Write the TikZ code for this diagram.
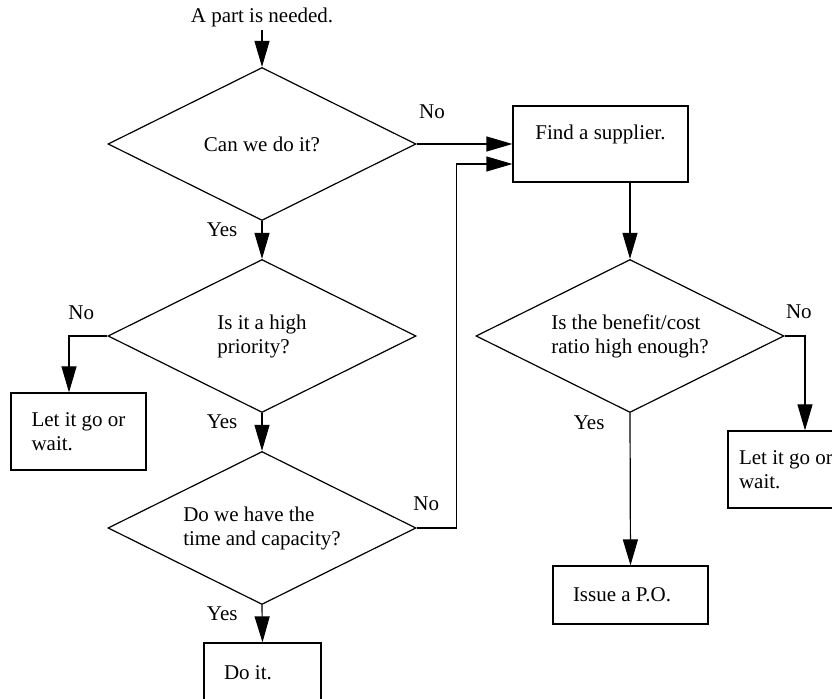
\documentclass[tikz,border=0pt]{standalone}
\usepackage{fontspec}
\setmainfont{Liberation Serif}
\usetikzlibrary{shapes.geometric,arrows.meta,positioning}

\begin{document}
\begin{tikzpicture}[x=0.5pt,y=-0.5pt,
		font=\fontsize{10.5}{12}\selectfont,
		decision/.style={draw, line width=0.6pt, diamond, aspect=2, inner sep=0pt, minimum width=154pt, minimum height=76.5pt, align=left},
		box/.style={draw, line width=0.6pt, align=left, inner xsep=10pt, inner ysep=0pt},
		lbl/.style={inner sep=0pt},
		flow/.style={line width=0.6pt, -{Triangle[length=13pt,width=7.5pt]}}]
		\useasboundingbox (0,0) rectangle (832,699);
		%\draw [help lines] (0,0) grid (832,699);
		\node[lbl, inner sep=1.5pt] (start) at (262,17.5) {A part is needed.};
		\node[decision] (d1) at (262,144) {Can we do it?};
		\node[decision] (d2) at (262,336) {Is it a high\\priority?};
		\node[decision] (d3) at (262,528) {Do we have the\\time and capacity?};
		\node[box, minimum width=67.5pt, minimum height=38.5pt] (wait1) at (78.5,431.5) {Let it go or\\wait.};
		\node[box, text width=38.5pt, align=flush left, minimum height=30pt] (doit) at (262.5,673) {Do it.};
		\node[box, minimum width=87.5pt, minimum height=38pt, align=center] (find) at (600.5,144) {Find a supplier.\\\mbox{}};
		\node[decision] (d4) at (630,336) {Is the benefit/cost\\ratio high enough?};
		\node[box, inner xsep=5.5pt, minimum height=38.5pt] (wait2) at (786,469.5) {Let it go or\\wait.};
		\node[box, text width=57.5pt, align=flush left, minimum height=29pt] (po) at (630.5,595) {Issue a P.O.};

		% left column
		\draw[flow] (start) -- (d1.north);
		\draw[flow] (d1.south) -- node[lbl, pos=0.23, left=12pt]{Yes} (d2.north);
		\draw[flow] (d2.south) -- node[lbl, pos=0.23, left=12pt]{Yes} (d3.north);
		\draw[flow] (d3.south) -- node[lbl, pos=0.23, left=12pt]{Yes} (doit.north);
		\draw[flow] (d2.west) -| node[lbl, pos=0.34, above=8pt]{No} ([xshift=-4.75pt]wait1.north);

		% over to the supplier
		\draw[flow] (d1.east) -- node[lbl, pos=0, above right=12.5pt and 1pt]{No} (find.west);
		\draw[flow] (d3.east) -- node[lbl, pos=0.24, above=8.5pt]{No} ++(40,0) |- ([yshift=-10pt]find.west);

		% right column
		\draw[flow] ([xshift=14.75pt]find.south) -- (d4.north);
		\draw[flow] (d4.east) -| node[lbl, pos=0.35, above=8.5pt]{No} ([xshift=9.5pt]wait2.north);
		\draw[flow] (d4.south) -- node[lbl, pos=0.06, left=12.5pt]{Yes} (po.north);
	\end{tikzpicture}
\end{document}
